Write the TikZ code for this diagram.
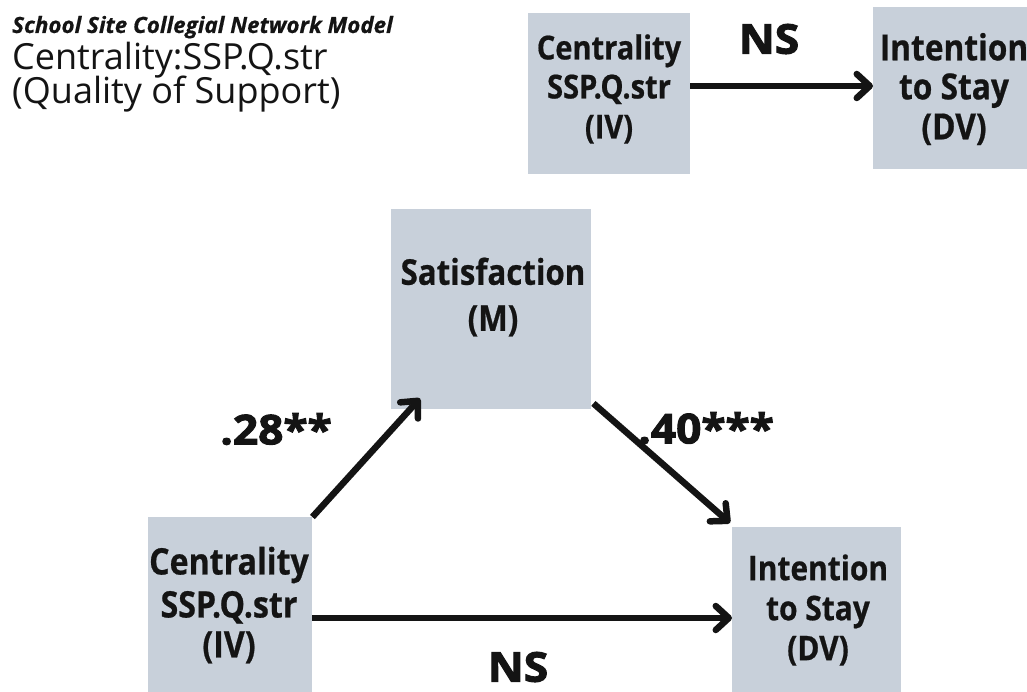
\documentclass[tikz,border=0pt]{standalone}
\usepackage{fontspec}
\setmainfont{Open Sans}
\newfontfamily\boxfont{Open Sans}[BoldFeatures={FakeStretch=0.88,FakeBold=0.6}]
\newfontfamily\heavyfont{Open Sans}[BoldFeatures={FakeBold=2.5,FakeStretch=1.08}]
\newfontfamily\headfont{Open Sans}[BoldItalicFeatures={FakeBold=0.6}]
\usetikzlibrary{arrows.meta,calc}
\definecolor{boxfill}{RGB}{200,208,218}
\definecolor{ink}{RGB}{20,20,20}
\tikzset{
  varbox/.style={fill=boxfill, draw=none, inner sep=0pt, anchor=north west},
  boxtext/.style={align=center, inner sep=0pt, text=ink,
    font=\boxfont\bfseries\fontsize{#1}{40}\selectfont},
  boxtext/.default=32.5,
  coef/.style={inner sep=0pt, text=ink, font=\heavyfont\bfseries\fontsize{41}{46}\selectfont},
  path/.style={line width=6.5pt, draw=ink, -{Straight Barb[round,length=13pt,width=24pt]}},
}
\begin{document}
\begin{tikzpicture}[x=1pt,y=-1pt]
\useasboundingbox (0,0) rectangle (1027,692);
\clip (0,0) rectangle (1027,692);

% heading
\node[anchor=base west, inner sep=0pt, text=ink, font=\headfont\bfseries\itshape\fontsize{22.4}{26}\selectfont]
  (title) at (12,33) {School Site Collegial Network Model};
\node[anchor=base west, inner sep=0pt, text=ink, font=\fontsize{36}{40}\selectfont]
  (meas) at (12,70) {Centrality:SSP.Q.str};
\node[anchor=base west, inner sep=0pt, text=ink, font=\fontsize{36}{40}\selectfont]
  (meas2) at (12,104) {(Quality of Support)};

% total effect (top)
\node[varbox, minimum width=162pt, minimum height=161pt] (civ) at (528,13) {};
\node[boxtext=33] (civ-t) at (609,89) {Centrality\\[-1pt]SSP.Q.str\\(IV)};
\node[varbox, minimum width=169pt, minimum height=162pt] (cdv) at (873,7) {};
\node[boxtext=36] (cdv-t) at (954,89) {Intention\\[-1pt]to Stay\\(DV)};
\draw[path] (civ.east |- 0,86) -- (cdv.west |- 0,86);
\node[coef] (ns1) at (769,39) {NS};

% mediation model
\node[varbox, minimum width=200pt, minimum height=200pt] (sat) at (391,209) {};
\node[boxtext=35.5] (sat-t) at (493,297) {Satisfaction\\[6pt](M)};
\node[varbox, minimum width=164pt, minimum height=190pt] (iv) at (148,517) {};
\node[boxtext=36.5] (iv-t) at (229,605) {Centrality\\[3pt]SSP.Q.str\\(IV)};
\node[varbox, minimum width=169pt, minimum height=180pt] (dv) at (732,527) {};
\node[boxtext=34] (dv-t) at (818,610) {Intention\\to Stay\\(DV)};

\coordinate (a-tip) at ($(sat.south west)+(29,-11)$);
\coordinate (b-start) at ($(sat.south east)+(2,-6)$);
\coordinate (b-tip) at ($(dv.north west)+(-2,-4)$);
\draw[path] (iv.north east) -- (a-tip);
\draw[path] (b-start) -- (b-tip);
\draw[path] (iv.east |- 0,618) -- (dv.west |- 0,618);

\node[coef] (ca) at (276,429) {.28**};
\node[coef] (cb) at (706,428) {.40***};
\node[coef] (cc) at (518,667) {NS};
\end{tikzpicture}
\end{document}
